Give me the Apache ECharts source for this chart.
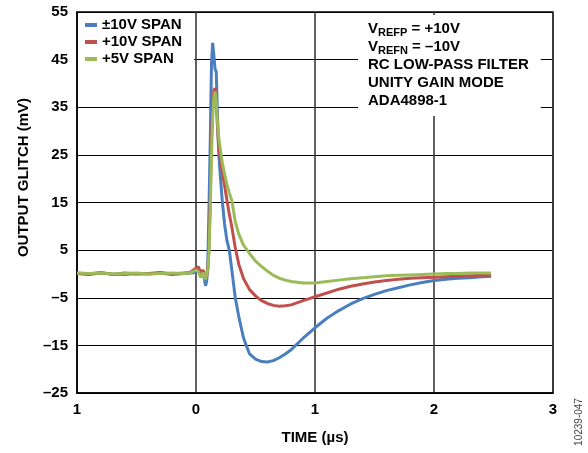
<!DOCTYPE html>
<html>
<head>
<meta charset="utf-8">
<script src="https://cdn.jsdelivr.net/npm/echarts@6/dist/echarts.min.js"></script>
<style>html,body{margin:0;padding:0;background:#fff}#c{width:588px;height:453px}</style>
</head>
<body>
<div id="c"></div>
<script>
// time in µs
var timeUs = [-1.0,-0.9,-0.8,-0.7,-0.6,-0.5,-0.4,-0.3,-0.2,-0.1,-0.05,0.0,0.02,0.04,0.06,0.08,0.09,0.10,0.11,0.12,0.13,0.14,0.15,0.16,0.17,0.18,0.19,0.20,0.22,0.24,0.26,0.28,0.30,0.33,0.36,0.40,0.45,0.50,0.55,0.60,0.65,0.70,0.75,0.80,0.90,1.00,1.10,1.20,1.30,1.40,1.50,1.60,1.70,1.80,1.90,2.00,2.10,2.20,2.30,2.40,2.48];
var span10Bipolar = [0.1,-0.1,0.2,0.0,-0.1,0.1,0.0,0.2,-0.1,0.1,0.2,0.3,0.8,-0.5,0.5,-2.5,-1.5,3,15,28,44,48.5,46,43,42.5,34,26,22,15.5,10.5,7,5,1,-5,-9,-13.5,-16.8,-17.9,-18.4,-18.5,-18.2,-17.6,-16.8,-15.9,-13.5,-11.3,-9.3,-7.7,-6.3,-5.2,-4.3,-3.5,-2.9,-2.3,-1.8,-1.4,-1.1,-0.9,-0.8,-0.6,-0.5];
var span10Unipolar = [0.2,0.0,0.3,-0.1,0.2,0.0,0.1,0.3,0.0,0.2,0.3,1.2,1.5,0.3,0.8,-1.0,-0.5,1,6,16,28,35,38.5,39,36,31,27,25,21.5,18.5,15.5,12.5,10,5.5,2,-1,-3.3,-4.6,-5.6,-6.2,-6.6,-6.8,-6.7,-6.5,-5.6,-4.8,-4.0,-3.2,-2.6,-2.1,-1.7,-1.4,-1.1,-0.9,-0.8,-0.7,-0.6,-0.5,-0.4,-0.3,-0.3];
var span5Unipolar = [0.2,0.1,0.2,0.0,0.1,0.2,0.0,0.1,0.2,0.1,0.2,0.8,0.5,-0.8,0.3,-1.2,0.0,1,5,14,25,33,37,38.3,36.5,32,29,27,23.5,21,18.8,17,15.5,11,8.3,6,4.3,2.7,1.6,0.6,-0.3,-0.9,-1.3,-1.6,-1.9,-1.9,-1.6,-1.3,-1.0,-0.8,-0.6,-0.4,-0.3,-0.2,-0.1,0.0,0.1,0.1,0.2,0.2,0.2];
var seriesNames = ['±10V SPAN','+10V SPAN','+5V SPAN'];
var xTickLabels = {'-1':'1','0':'0','1':'1','2':'2','3':'3'};
var yTickValues = [-25,-15,-5,5,15,25,35,45,55];

function pairs(vals){ return timeUs.map(function(t,i){ return [t, vals[i]]; }); }

var FONT = '"Liberation Sans", Arial, sans-serif';
var colors = ['#4a7ebf','#c0504d','#9bbb59'];
var chart = echarts.init(document.getElementById('c'), null, {renderer:'canvas'});
chart.setOption({
  animation:false,
  backgroundColor:'#fff',
  color: colors,
  grid:{left:77, right:35, top:12, bottom:60, show:true, borderColor:'#000', borderWidth:1.5, containLabel:false},
  title:{
    left:358, top:15, padding:[5,12,6,10], backgroundColor:'#fff',
    text:'{a|V}{s|REFP}{a| = +10V}\n{a|V}{s|REFN}{a| = –10V}\n{a|RC LOW-PASS FILTER}\n{a|UNITY GAIN MODE}\n{a|ADA4898-1}',
    textStyle:{fontFamily:FONT, fontSize:15, fontWeight:'bold', color:'#000', lineHeight:18,
      rich:{a:{fontFamily:FONT,fontSize:15,fontWeight:'bold',color:'#000',lineHeight:18},
            s:{fontFamily:FONT,fontSize:11,fontWeight:'bold',color:'#000',lineHeight:18,padding:[7,0,0,0]}}}
  },
  legend:{
    left:78, top:13, orient:'vertical', padding:[4,12,3,7], backgroundColor:'#fff',
    itemWidth:12, itemHeight:4, itemGap:1, icon:'rect',
    textStyle:{fontFamily:FONT, fontSize:15, fontWeight:'bold', color:'#000', lineHeight:16},
    data: seriesNames
  },
  xAxis:{
    type:'value', min:-1, max:3, interval:1,
    name:'TIME (µs)', nameLocation:'middle', nameGap:37,
    nameTextStyle:{fontFamily:FONT, fontSize:15, fontWeight:'bold', color:'#000'},
    axisLine:{show:true, onZero:false, lineStyle:{color:'#000', width:1.5}},
    axisTick:{show:false},
    axisLabel:{fontFamily:FONT, fontSize:15, fontWeight:'bold', color:'#000', margin:9,
      formatter:function(v){ return xTickLabels[String(v)]; }},
    splitLine:{show:true, lineStyle:{color:'#3a3a3a', width:1.6}}
  },
  yAxis:{
    type:'value', min:-25, max:55, interval:10,
    name:'OUTPUT GLITCH (mV)', nameLocation:'middle', nameGap:46, nameRotate:90,
    nameTextStyle:{fontFamily:FONT, fontSize:15, fontWeight:'bold', color:'#000', padding:[0,0,0,50]},
    axisLine:{show:true, onZero:false, lineStyle:{color:'#000', width:1.5}},
    axisTick:{show:false},
    axisLabel:{fontFamily:FONT, fontSize:15, fontWeight:'bold', color:'#000', margin:9,
      formatter:function(v){ return yTickValues.indexOf(v)>=0 ? String(v).replace('-','–') : ''; }},
    splitLine:{show:true, lineStyle:{color:'#000', width:1}}
  },
  graphic:[{type:'text', x:579, y:422, rotation:Math.PI/2,
    style:{text:'10239-047', fontFamily:FONT, fontSize:10, fill:'#444', align:'center', verticalAlign:'middle'}}],
  series:[
    {name:seriesNames[0], type:'line', data:pairs(span10Bipolar), showSymbol:false, lineStyle:{width:3}},
    {name:seriesNames[1], type:'line', data:pairs(span10Unipolar), showSymbol:false, lineStyle:{width:3}},
    {name:seriesNames[2], type:'line', data:pairs(span5Unipolar), showSymbol:false, lineStyle:{width:3}}
  ]
});
</script>
</body>
</html>
